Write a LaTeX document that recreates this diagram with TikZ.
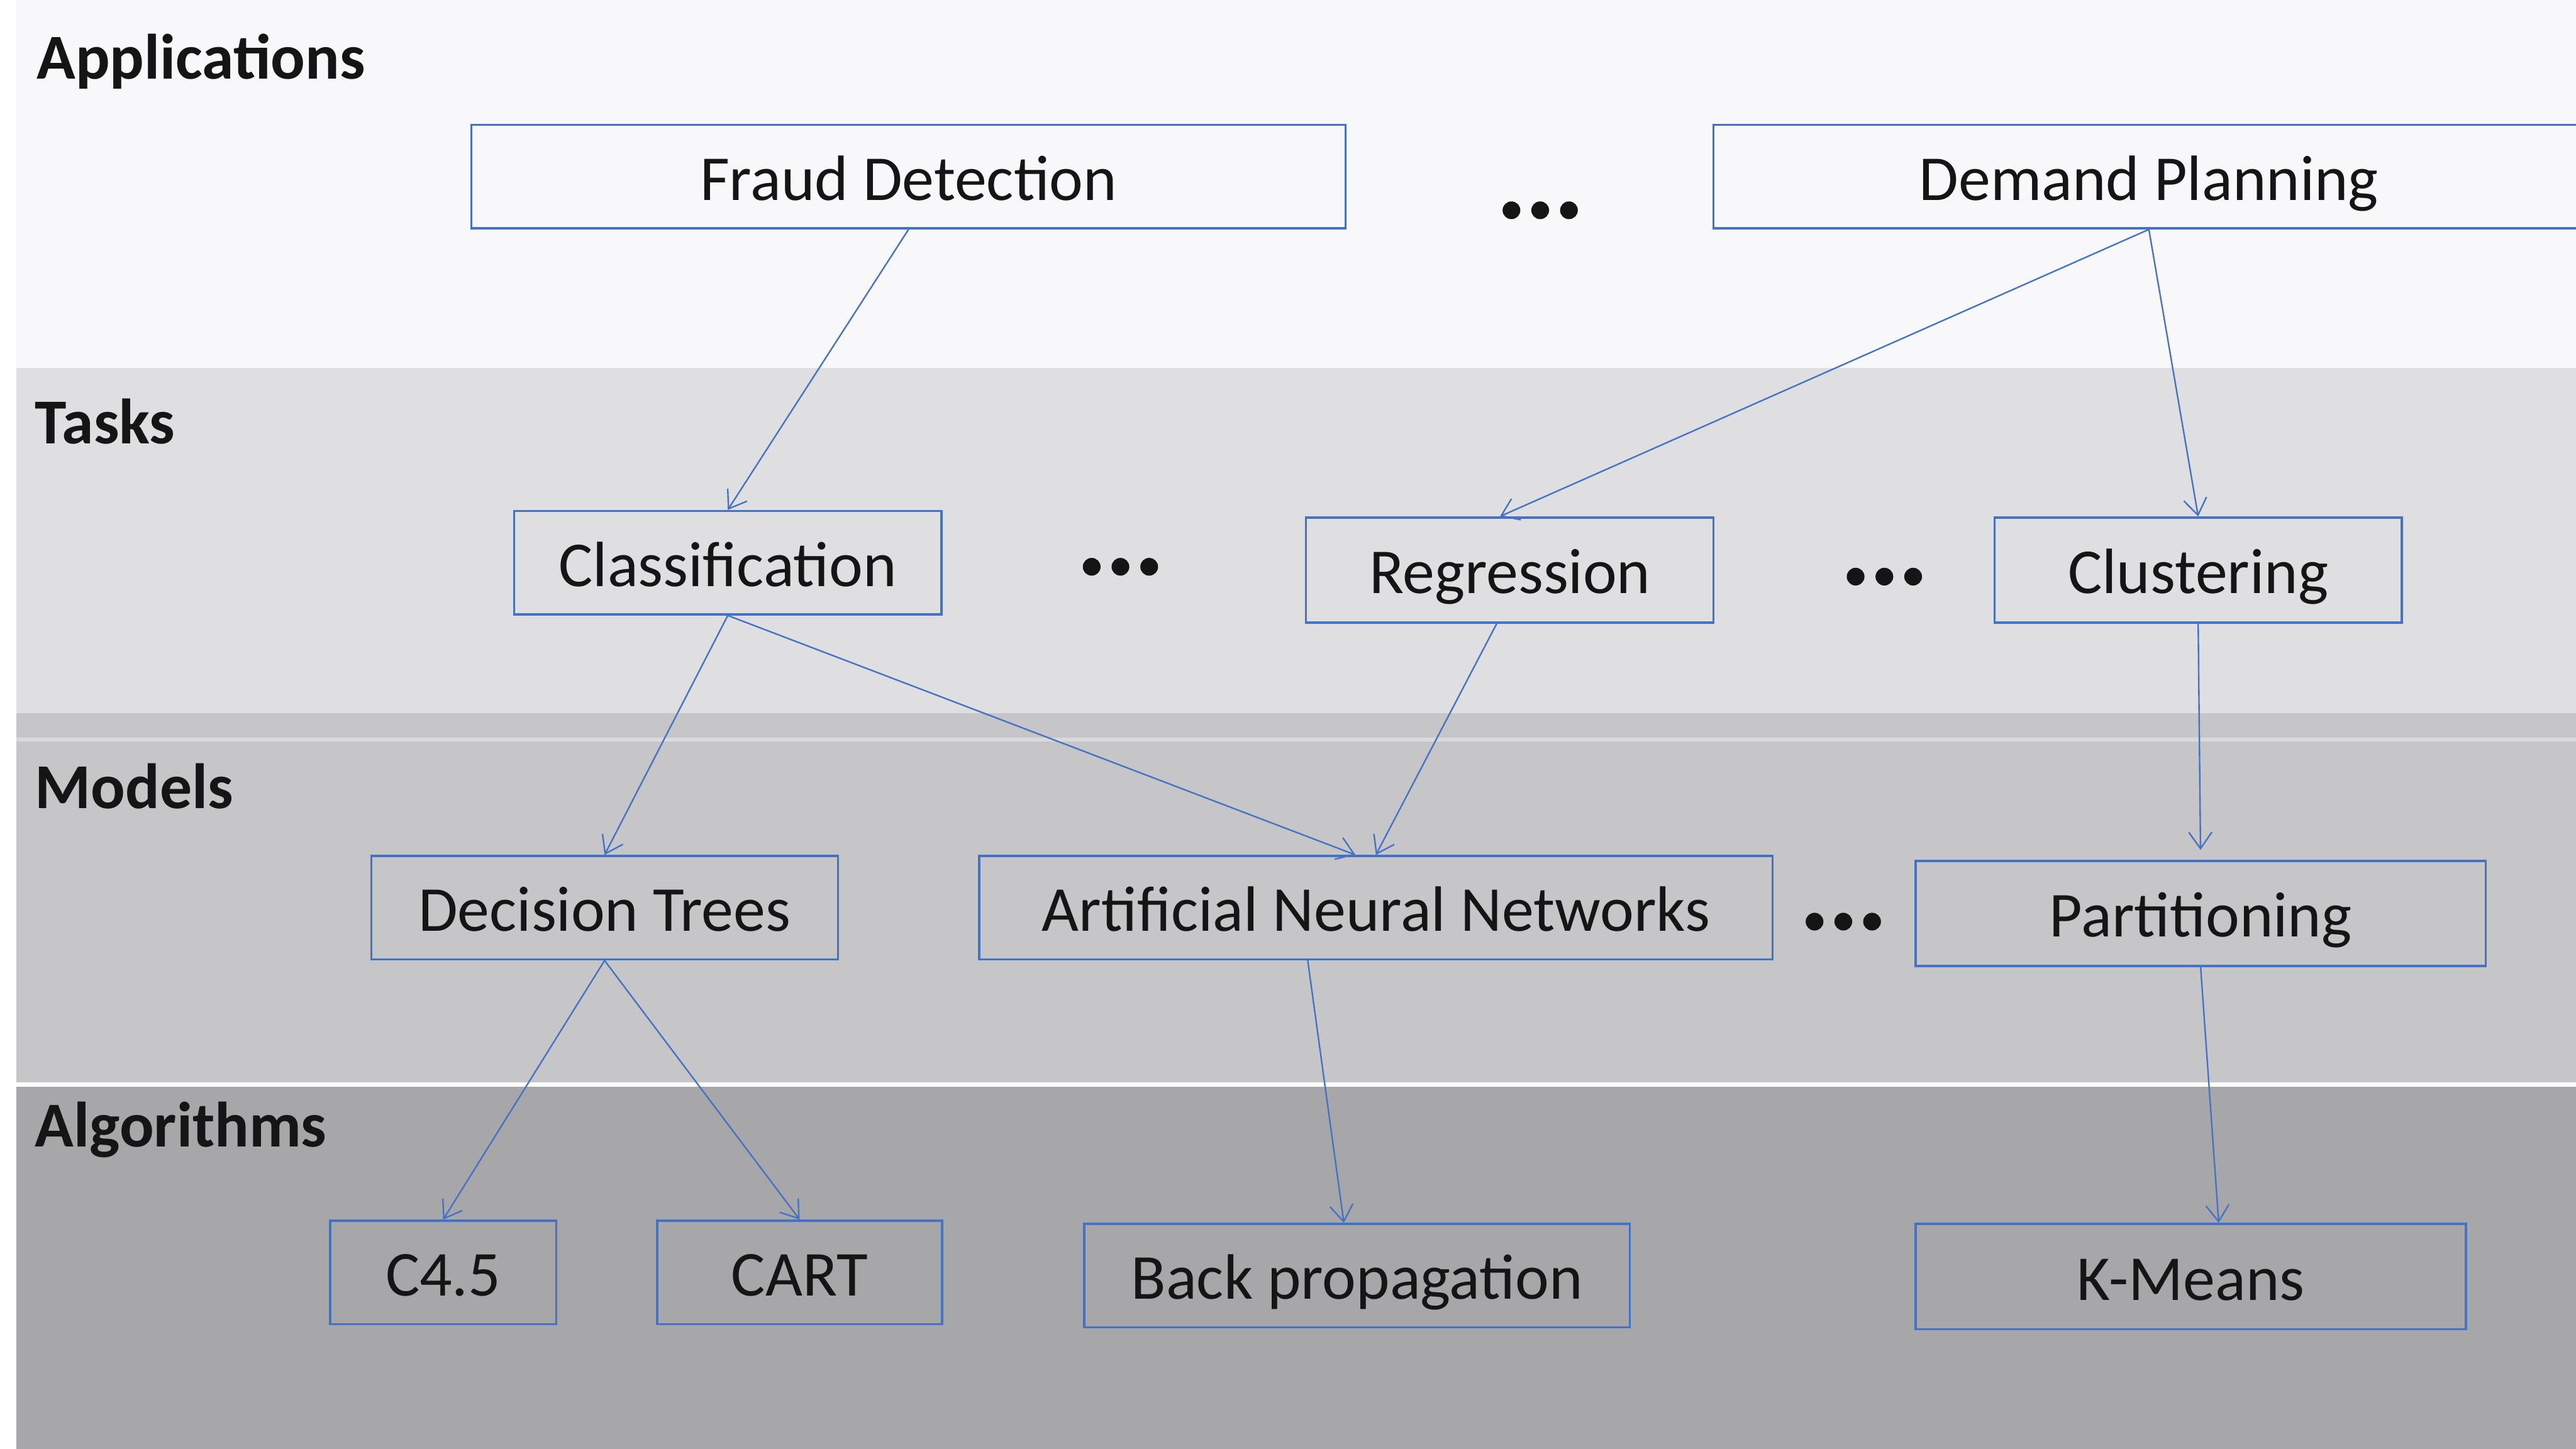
\documentclass[tikz,border=0pt]{standalone}
\usepackage{fontspec}
\setmainfont{Carlito}
\usetikzlibrary{arrows.meta}

\definecolor{boxblue}{HTML}{4472C4}
\definecolor{appbg}{HTML}{F8F7F9}
\definecolor{taskbg}{HTML}{DFDEE0}
\definecolor{modelbg}{HTML}{C6C5C7}
\definecolor{algbg}{HTML}{A7A6A8}
\definecolor{seam}{HTML}{DAD9DB}
\definecolor{inktext}{HTML}{151515}

\begin{document}
\begin{tikzpicture}[x=0.5pt,y=-0.5pt,
  box/.style={draw=boxblue, line width=0.65pt, inner sep=0pt,
    minimum height=31.5pt, text height=14.3pt, text depth=0pt,
    font=\fontsize{19.5}{23}\selectfont, text=inktext},
  layer/.style={anchor=base west, inner sep=0pt,
    font=\fontsize{19.5}{23}\selectfont\bfseries, text=inktext},
  link/.style={draw=boxblue, line width=0.45pt,
    -{Straight Barb[length=5pt,width=7pt]}},
  ellip/.pic={\foreach \i in {-1,0,1} \fill[inktext] (\i*17.5,0) circle[radius=2.7pt];}
]
\useasboundingbox (0,0) rectangle (1568,882);
\clip (0,0) rectangle (1568,882);

% layer bands
\fill[white] (0,0) rectangle (1568,882);
\fill[appbg]   (10,0)   rectangle (1568,224);
\fill[taskbg]  (10,224) rectangle (1568,434);
\fill[modelbg] (10,434) rectangle (1568,659);
\fill[seam]    (10,449) rectangle (1568,451.5);
\fill[algbg]   (10,661.5) rectangle (1568,882);

% layer titles
\node[layer] (lapp) at (22,48)  {Applications};
\node[layer] (ltask) at (21,270) {Tasks};
\node[layer] (lmod) at (21,492) {Models};
\node[layer] (lalg) at (21,698) {Algorithms};

% applications
\node[box, minimum width=266pt] (fraud)  at (553,107.5)  {Fraud Detection};
\node[box, minimum width=265pt] (demand) at (1308,107.5) {Demand Planning};

% tasks
\node[box, minimum width=130pt] (cls) at (443,342.5) {Classification};
\node[box, minimum width=124pt, minimum height=32pt] (reg) at (919,347) {Regression};
\node[box, minimum width=124pt, minimum height=32pt] (clu) at (1338,347) {Clustering};

% models
\node[box, minimum width=142pt] (dt)  at (368,552.5)   {Decision Trees};
\node[box, minimum width=241.5pt] (ann) at (837.5,552.5) {Artificial Neural Networks};
\node[box, minimum width=173.5pt, minimum height=32pt] (part) at (1339.5,556) {Partitioning};

% algorithms
\node[box, minimum width=68.75pt] (c45)  at (269.75,774.5) {C4.5};
\node[box, minimum width=86.75pt] (cart) at (486.75,774.5) {CART};
\node[box, minimum width=166pt]   (bp)   at (826,776.5)    {Back propagation};
\node[box, minimum width=167.5pt, minimum height=32pt] (km) at (1333.5,777) {K-Means};

% ellipses between siblings
\pic at (937.5,128) {ellip};
\pic at (682,345)   {ellip};
\pic at (1147,351)  {ellip};
\pic at (1122,561)  {ellip};

% connectors
\draw[link] (fraud.south) -- (cls.north);
\draw[link] (demand.south) -- ([xshift=-3pt]reg.north);
\draw[link] (demand.south) -- (clu.north);
\draw[link] (cls.south) -- (dt.north);
\draw[link] (cls.south) -- ([xshift=-6.25pt]ann.north);
\draw[link] ([xshift=-4pt]reg.south) -- (ann.north);
\draw[link, shorten >=3pt] (clu.south) -- (part.north);
\draw[link] (dt.south) -- (c45.north);
\draw[link] (dt.south) -- (cart.north);
\draw[link] ([xshift=-20.75pt]ann.south) -- ([xshift=-4pt]bp.north);
\draw[link] (part.south) -- ([xshift=8.5pt]km.north);
\end{tikzpicture}
\end{document}
